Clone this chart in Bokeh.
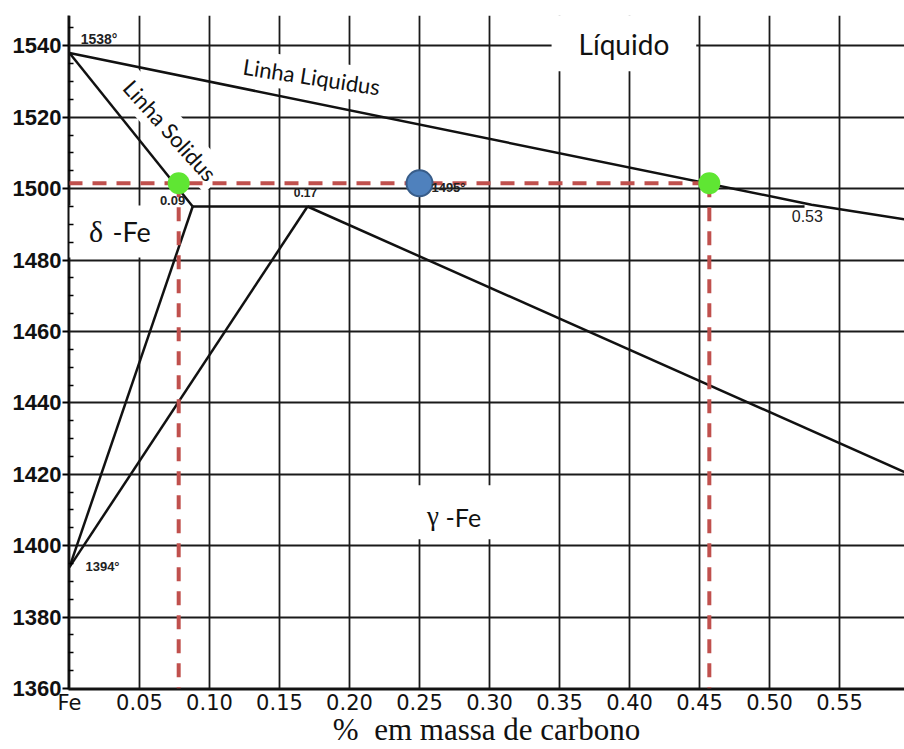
from bokeh.plotting import figure
from bokeh.models import Label, FixedTicker, Range1d
from bokeh.embed import file_html
from bokeh.resources import INLINE

# ---------------- data ----------------
x_ticks = [0.0, 0.05, 0.10, 0.15, 0.20, 0.25, 0.30, 0.35, 0.40, 0.45, 0.50, 0.55]
x_tick_labels = ["Fe", "0.05", "0.10", "0.15", "0.20", "0.25", "0.30", "0.35",
                 "0.40", "0.45", "0.50", "0.55"]
y_ticks = [1360, 1380, 1400, 1420, 1440, 1460, 1480, 1500, 1520, 1540]
y_tick_labels = ["1360", "1380", "1400", "1420", "1440", "1460", "1480", "1500", "1520", "1540"]
y_minor_ticks = [1365, 1370, 1375, 1385, 1390, 1395, 1405, 1410, 1415, 1425, 1430, 1435,
                 1445, 1450, 1455, 1465, 1470, 1475, 1485, 1490, 1495, 1505, 1510, 1515,
                 1525, 1530, 1535, 1545]

# phase boundaries (carbon wt %, temperature °C)
liquidus_c = [0.0, 0.53, 0.60]
liquidus_t = [1538, 1495.5, 1491.2]
solidus_delta_c = [0.0, 0.088]
solidus_delta_t = [1538, 1495]
delta_boundary_c = [0.088, 0.0]
delta_boundary_t = [1495, 1394]
gamma_boundary_c = [0.0, 0.17]
gamma_boundary_t = [1394, 1495]
gamma_solidus_c = [0.17, 0.60]
gamma_solidus_t = [1495, 1420]
peritectic_c = [0.088, 0.525]
peritectic_t = [1495, 1495]

# composition / temperature of the reading
reading_t = 1501.5
solid_c = 0.078
alloy_c = 0.25
liquid_c = 0.457

# point annotations: (text, c, t)
point_labels = [("1538°", 0.008, 1541.8), ("0.09", 0.0736, 1496.6), ("0.17", 0.1686, 1499.0),
                ("1495°", 0.2707, 1500.2), ("0.53", 0.527, 1492.3), ("1394°", 0.0114, 1394.1)]

# ---------------- figure ----------------
p = figure(width=904, height=749, output_backend="svg", toolbar_location=None,
           x_range=Range1d(-0.0007, 0.5964), y_range=Range1d(1359.72, 1548.5),
           min_border_left=68, min_border_right=0, min_border_top=15, min_border_bottom=59)
p.background_fill_color = "white"
p.border_fill_color = "white"
p.outline_line_color = None

# axes
p.xaxis.ticker = FixedTicker(ticks=x_ticks)
p.xaxis.major_label_overrides = {t: l for t, l in zip(x_ticks, x_tick_labels)}
p.xaxis.major_label_text_font = "DejaVu Sans"
p.xaxis.major_label_text_font_size = "21px"
p.xaxis.major_label_text_color = "#111111"
p.xaxis.major_tick_out = 0
p.xaxis.major_tick_in = 0
p.xaxis.minor_tick_out = 0
p.xaxis.minor_tick_in = 0
p.xaxis.major_label_standoff = 1
p.xaxis.axis_line_width = 2
p.xaxis.axis_line_color = "#111111"
p.xaxis.axis_label = "%\u00a0 em massa de carbono"
p.xaxis.axis_label_text_font = "Liberation Serif"
p.xaxis.axis_label_text_font_style = "normal"
p.xaxis.axis_label_text_font_size = "31px"
p.xaxis.axis_label_text_color = "#111111"
p.xaxis.axis_label_standoff = -6

p.yaxis.ticker = FixedTicker(ticks=y_ticks, minor_ticks=y_minor_ticks)
p.yaxis.major_label_overrides = {t: l for t, l in zip(y_ticks, y_tick_labels)}
p.yaxis.major_label_text_font = "Liberation Sans"
p.yaxis.major_label_text_font_style = "bold"
p.yaxis.major_label_text_font_size = "22px"
p.yaxis.major_label_text_color = "#111111"
p.yaxis.major_tick_out = 6
p.yaxis.major_tick_in = 0
p.yaxis.major_tick_line_width = 2
p.yaxis.minor_tick_in = 5
p.yaxis.minor_tick_out = 0
p.yaxis.minor_tick_line_width = 1.5
p.yaxis.major_label_standoff = 1
p.yaxis.axis_line_width = 2
p.yaxis.axis_line_color = "#111111"

# grid
p.xgrid.ticker = FixedTicker(ticks=x_ticks)
p.ygrid.ticker = FixedTicker(ticks=y_ticks)
for g in (p.xgrid, p.ygrid):
    g.grid_line_color = "#1a1a1a"
    g.grid_line_width = 1.8
    g.level = "image"

# white label boxes (drawn above grid, below the boundary lines);
# the padded box is centred on (c, t)
def box_label(text, c, t, font, size, pad, angle=0.0):
    lab = Label(x=c, y=t, text=text, text_font=font, text_font_size=size,
                text_color="#111111", text_align="center", text_baseline="middle",
                angle=angle, background_fill_color="white", background_fill_alpha=1.0,
                padding=pad, level="underlay")
    p.add_layout(lab)

box_label("Líquido", 0.396, 1541.0, "Lato", "28px",
          dict(left=27, right=27, top=14, bottom=10))
box_label("Linha Liquidus", 0.173, 1531.5, "Lato", "22px",
          dict(left=8, right=8, top=4, bottom=3), angle=-0.152)
box_label("Linha Solidus", 0.0721, 1516.4, "Lato", "22px",
          dict(left=6, right=6, top=4, bottom=3), angle=-0.838)
box_label("δ", 0.0364, 1487.97, "Liberation Serif", "30px",
          dict(left=20, right=69, top=9, bottom=10))
box_label("γ", 0.2757, 1409.4, "Liberation Serif", "27px",
          dict(left=64, right=109, top=16, bottom=8))

for text, c, t, size in [("-Fe", 0.0307, 1487.9, "27px"), ("-Fe", 0.2686, 1408.1, "25px")]:
    p.add_layout(Label(x=c, y=t, text=text, text_font="Lato", text_font_size=size,
                       text_color="#111111", text_align="left", text_baseline="middle",
                       level="underlay"))

# phase boundaries
line_kw = dict(line_color="#111111", line_width=2.5)
p.line(liquidus_c, liquidus_t, **line_kw)
p.line(solidus_delta_c, solidus_delta_t, **line_kw)
p.line(delta_boundary_c, delta_boundary_t, **line_kw)
p.line(gamma_boundary_c, gamma_boundary_t, **line_kw)
p.line(gamma_solidus_c, gamma_solidus_t, **line_kw)
p.line(peritectic_c, peritectic_t, **line_kw)

# small point annotations
sizes = {"1538°": "14px", "0.09": "13px", "0.17": "12px", "1495°": "13px",
         "0.53": "16px", "1394°": "13px"}
for text, c, t in point_labels:
    p.add_layout(Label(x=c, y=t, text=text, text_font="Liberation Sans",
                       text_font_size=sizes[text],
                       text_font_style="normal" if text == "0.53" else "bold",
                       text_color="#222222",
                       text_align="left" if text in ("1538°", "1394°") else "center",
                       text_baseline="middle"))

# dashed reading lines
dash_kw = dict(line_color="#C0504D", line_width=4, line_dash="14 10")
p.line([-0.0007, liquid_c], [reading_t, reading_t], **dash_kw)
p.line([solid_c, solid_c], [reading_t, 1360], **dash_kw)
p.line([liquid_c, liquid_c], [reading_t, 1360], **dash_kw)

# points
p.scatter([solid_c, liquid_c], [reading_t, reading_t], size=22,
          fill_color="#5FE633", line_color=None)
p.scatter([alloy_c], [reading_t], size=26, fill_color="#4F81BD",
          line_color="#385D8A", line_width=2)

open("out.html", "w").write(file_html(p, INLINE))
